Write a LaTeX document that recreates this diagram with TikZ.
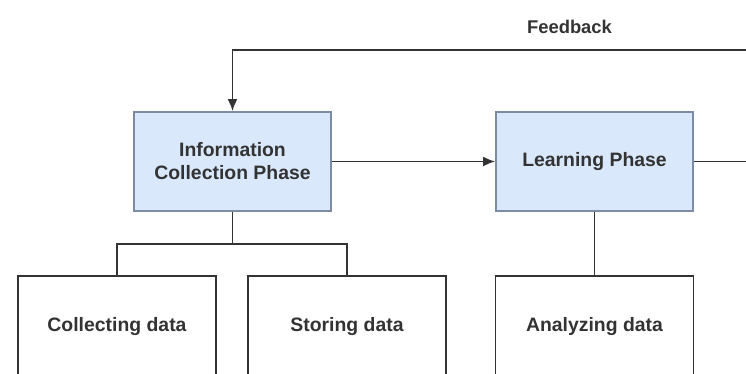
\documentclass[tikz,border=0pt]{standalone}
\usepackage{fontspec}
\setmainfont{Liberation Sans}
\usetikzlibrary{arrows, arrows.meta, calc}
\definecolor{phasefill}{HTML}{DAE8FC}
\definecolor{phaseline}{HTML}{7D8CA3}
\definecolor{inkgray}{HTML}{333333}

\begin{document}
\begin{tikzpicture}[x=0.5pt, y=0.5pt,
	every node/.style={font=\fontsize{9.7}{11.5}\selectfont\bfseries, text=inkgray, align=center},
	phase/.style={draw=phaseline, fill=phasefill, line width=0.9pt, minimum width=98.5pt, minimum height=49.5pt, inner sep=0pt},
	task/.style={draw=inkgray, fill=white, line width=0.9pt, minimum width=99pt, minimum height=51pt, inner sep=0pt},
	link/.style={draw=inkgray, line width=0.9pt},
	tip/.style={-{Latex[length=6pt, width=5pt]}}]
	\useasboundingbox (0,0) rectangle (746,374);
	\clip (0,0) rectangle (746,374);

	\node [phase] (info) at (232.5,212.5) {Information\\Collection Phase};
	\node [phase] (learn) at (594.5,212.5) {Learning Phase};

	\node [task] (collect) at (117,47) {Collecting data};
	\node [task] (store) at (347,47) {Storing data};
	\node [task] (analyze) at (594.5,47) {Analyzing data};

	\node [font=\fontsize{9.2}{11}\selectfont\bfseries] (fblabel) at (569.5,347) {Feedback};

	\coordinate (split) at (232.5,130);
	\coordinate (outR) at (760,212.5);
	\coordinate (fbR) at (760,324);

	\draw [link, tip] (info.east) -- (learn.west);
	\draw [link] (learn.east) -- (outR);
	\draw [link, tip] (fbR) -| (info.north);

	\draw [link] (info.south) -- (split);
	\draw [link] (collect.north) |- (split) -| (store.north);
	\draw [link] (learn.south) -- (analyze.north);
\end{tikzpicture}
\end{document}
